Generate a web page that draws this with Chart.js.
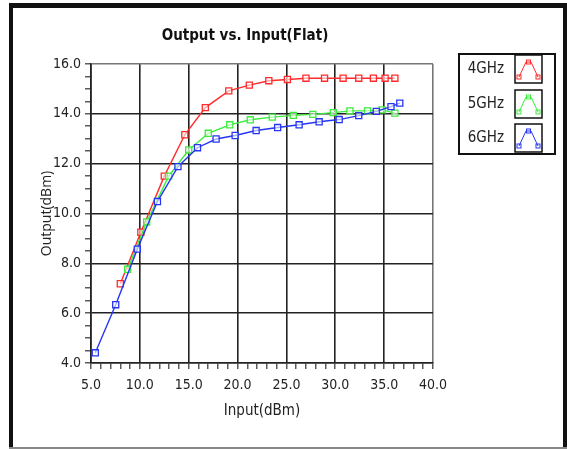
<!DOCTYPE html>
<html>
<head>
<meta charset="utf-8">
<script src="https://cdn.jsdelivr.net/npm/chart.js@4.4.1/dist/chart.umd.min.js"></script>
<style>
  html, body { margin: 0; padding: 0; background: #fff; }
  #wrap { position: relative; width: 567px; height: 449px; }
</style>
</head>
<body>
<div id="wrap"><canvas id="myChart" width="567" height="449"></canvas></div>
<script>
// Input (dBm) vs Output (dBm)
const input4 = [8.0, 10.1, 12.5, 14.6, 16.7, 19.1, 21.2, 23.2, 25.1, 27.0, 28.9, 30.8, 32.4, 33.9, 35.1, 36.1];
const output4 = [7.18, 9.25, 11.5, 13.16, 14.25, 14.92, 15.15, 15.33, 15.38, 15.43, 15.43, 15.43, 15.43, 15.43, 15.43, 15.43];

const input5 = [8.75, 10.7, 12.95, 15.0, 17.0, 19.2, 21.3, 23.55, 25.7, 27.7, 29.8, 31.5, 33.3, 34.8, 36.1];
const output5 = [7.76, 9.66, 11.5, 12.55, 13.22, 13.56, 13.76, 13.87, 13.94, 13.98, 14.05, 14.12, 14.12, 14.16, 14.03];

const input6 = [5.44, 7.53, 9.74, 11.8, 13.9, 15.9, 17.8, 19.75, 21.9, 24.1, 26.3, 28.35, 30.4, 32.4, 34.2, 35.7, 36.6];
const output6 = [4.41, 6.34, 8.57, 10.48, 11.88, 12.64, 12.99, 13.13, 13.33, 13.45, 13.56, 13.68, 13.77, 13.93, 14.1, 14.29, 14.43];

const seriesNames = ['4GHz', '5GHz', '6GHz'];
const seriesColors = ['#ff2a2a', '#3cec3c', '#2636f2'];

const narrow = "'Liberation Sans Narrow', 'DejaVu Sans Condensed', sans-serif";

function toPoints(xs, ys) {
  return xs.map((x, i) => ({ x: x, y: ys[i] }));
}

function makeSet(i, xs, ys, order) {
  return {
    label: seriesNames[i],
    data: toPoints(xs, ys),
    borderColor: seriesColors[i],
    backgroundColor: 'rgba(255,255,255,0.6)',
    borderWidth: 1.4,
    pointStyle: 'rect',
    pointRadius: 4.3,
    pointBorderWidth: 1.3,
    pointBorderColor: seriesColors[i],
    pointBackgroundColor: 'rgba(255,255,255,0.6)',
    tension: 0,
    order: order
  };
}

// outer frame of the picture
const framePlugin = {
  id: 'frame',
  beforeDraw(chart) {
    const ctx = chart.ctx;
    ctx.save();
    ctx.fillStyle = '#fff';
    ctx.fillRect(0, 0, chart.width, chart.height);
    ctx.fillStyle = '#111';
    ctx.fillRect(9, 3, 4, 446);
    ctx.fillRect(9, 3, 558, 5);
    ctx.fillRect(563, 3, 4, 446);
    ctx.fillStyle = '#888';
    ctx.fillRect(9, 447, 558, 2);
    ctx.restore();
  }
};

// title sits left of the plot centre, so it is drawn here
const titlePlugin = {
  id: 'bigTitle',
  afterDraw(chart) {
    const ctx = chart.ctx;
    ctx.save();
    ctx.font = "bold 15px " + narrow;
    ctx.fillStyle = '#111';
    ctx.textAlign = 'center';
    ctx.textBaseline = 'middle';
    ctx.fillText('Output vs. Input(Flat)', 245, 36);
    ctx.restore();
  }
};

// boxed legend with little line icons
const legendPlugin = {
  id: 'boxLegend',
  afterDraw(chart) {
    const ctx = chart.ctx;
    ctx.save();
    ctx.strokeStyle = '#111';
    ctx.lineWidth = 2;
    ctx.strokeRect(459, 54, 96, 100);
    const tops = [55, 90, 124];
    chart.data.datasets.forEach((ds, i) => {
      const top = tops[i];
      ctx.font = "15px " + narrow;
      ctx.fillStyle = '#222';
      ctx.textAlign = 'right';
      ctx.textBaseline = 'middle';
      ctx.fillText(ds.label, 504, top + 14);

      ctx.strokeStyle = '#111';
      ctx.lineWidth = 1.5;
      ctx.strokeRect(515, top, 27, 28);

      ctx.strokeStyle = ds.borderColor;
      ctx.lineWidth = 1;
      ctx.beginPath();
      ctx.moveTo(519, top + 22);
      ctx.lineTo(526, top + 7);
      ctx.lineTo(531, top + 7);
      ctx.lineTo(538, top + 22);
      ctx.stroke();
      [[519, top + 22], [528.5, top + 7], [538, top + 22]].forEach(p => {
        ctx.strokeRect(p[0] - 2, p[1] - 2, 4, 4);
      });
    });
    ctx.restore();
  }
};

const ctx = document.getElementById('myChart').getContext('2d');
new Chart(ctx, {
  type: 'line',
  data: {
    datasets: [
      makeSet(0, input4, output4, 3),
      makeSet(1, input5, output5, 2),
      makeSet(2, input6, output6, 1)
    ]
  },
  options: {
    responsive: false,
    animation: false,
    layout: { padding: { left: 35, right: 134, top: 64, bottom: 25 } },
    plugins: {
      legend: { display: false },
      title: { display: false },
      tooltip: { enabled: false }
    },
    scales: {
      x: {
        type: 'linear',
        min: 5,
        max: 40,
        afterFit(scale) { scale.height = 61; },
        ticks: {
          stepSize: 1,
          autoSkip: false,
          maxRotation: 0,
          padding: 8,
          color: '#222',
          font: { family: narrow, size: 14 },
          callback: v => (v % 5 === 0 ? v.toFixed(1) : '')
        },
        grid: {
          tickLength: 6,
          lineWidth: 1.6,
          color: c => (c.tick.value === 40 ? '#777' : (c.tick.value % 5 === 0 ? '#222' : 'rgba(0,0,0,0)')),
          tickColor: '#333',
          tickWidth: 1.2
        },
        border: { color: '#222', width: 1.6 },
        title: {
          display: true,
          text: 'Input(dBm)',
          color: '#222',
          font: { family: narrow, size: 15 }
        }
      },
      y: {
        min: 4,
        max: 16,
        afterFit(scale) { scale.width = 56; },
        ticks: {
          stepSize: 0.5,
          autoSkip: false,
          padding: 4,
          color: '#222',
          font: { family: narrow, size: 14 },
          callback: v => (v % 2 === 0 ? v.toFixed(1) : '')
        },
        grid: {
          tickLength: 6,
          lineWidth: 1.6,
          color: c => (c.tick.value === 16 ? '#777' : (c.tick.value % 2 === 0 ? '#222' : 'rgba(0,0,0,0)')),
          tickColor: '#333',
          tickWidth: 1.2
        },
        border: { color: '#222', width: 1.6 },
        title: {
          display: true,
          text: 'Output(dBm)',
          color: '#222',
          font: { family: "'Open Sans', sans-serif", size: 14 }
        }
      }
    }
  },
  plugins: [framePlugin, titlePlugin, legendPlugin]
});
</script>
</body>
</html>
